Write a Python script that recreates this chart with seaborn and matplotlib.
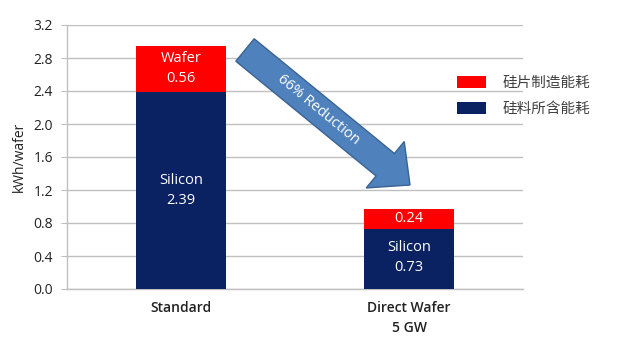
import matplotlib
matplotlib.use("Agg")
import matplotlib.pyplot as plt
import seaborn as sns
import pandas as pd
from matplotlib.patches import FancyArrow, Patch
from matplotlib.transforms import IdentityTransform

categories = ["Standard", "Direct Wafer\n5 GW"]
silicon = [2.39, 0.73]
wafer = [0.56, 0.24]
silicon_labels = ["Silicon\n2.39", "Silicon\n0.73"]
wafer_labels = ["Wafer\n0.56", "0.24"]
legend_labels = ["硅片制造能耗", "硅料所含能耗"]
yticks = [0.0, 0.4, 0.8, 1.2, 1.6, 2.0, 2.4, 2.8, 3.2]

RED = "#ff0000"
NAVY = "#0b2262"
GRID = "#c0c0c0"

sns.set_style("white")
plt.rcParams["font.family"] = ["Open Sans", "Noto Sans CJK SC", "DejaVu Sans"]

fig = plt.figure(figsize=(6.4, 3.49), dpi=100)
ax = fig.add_axes([67 / 640, 60 / 349, (523 - 67) / 640, (289 - 25) / 349])

df = pd.DataFrame({"cat": categories, "silicon": silicon,
                   "total": [s + w for s, w in zip(silicon, wafer)]})

sns.barplot(data=df, x="cat", y="total", color=RED, width=0.395,
            saturation=1, ax=ax, zorder=3)
sns.barplot(data=df, x="cat", y="silicon", color=NAVY, width=0.395,
            saturation=1, ax=ax, zorder=4)

for p in ax.patches:
    p.set_edgecolor("none")

# value labels inside the segments
for i, (s, w) in enumerate(zip(silicon, wafer)):
    ax.text(i, s / 2 if i == 0 else s / 2 + 0.02, silicon_labels[i], ha="center",
            va="center", color="white", fontsize=10.5, linespacing=1.45, zorder=5)
    ax.text(i, s + w / 2, wafer_labels[i], ha="center", va="center",
            color="white", fontsize=10.5, linespacing=1.45, zorder=5)

ax.set_xlim(-0.5, 1.5)
ax.set_ylim(0, 3.2)
ax.set_yticks(yticks)
ax.set_yticklabels([f"{t:.1f}" for t in yticks], fontsize=10, color="#222222")
ax.yaxis.grid(True, color=GRID, linewidth=1)
ax.set_axisbelow(True)
ax.set_xlabel("")
ax.set_ylabel("kWh/wafer", fontsize=10, labelpad=5, color="#222222")
ax.set_xticks([0, 1])
ax.set_xticklabels(categories, fontsize=10, fontweight="semibold",
                   linespacing=1.5, color="#222222")
ax.tick_params(axis="x", length=0, pad=9)
ax.set_xticks([-0.5, 0.5, 1.5], minor=True)
ax.tick_params(axis="x", which="minor", length=5, color=GRID, direction="out")
ax.tick_params(axis="y", length=4, color=GRID, direction="out", left=True, pad=6)

for side in ["top", "right"]:
    ax.spines[side].set_visible(False)
for side in ["left", "bottom"]:
    ax.spines[side].set_color(GRID)
    ax.spines[side].set_linewidth(1)

handles = [Patch(facecolor=RED, edgecolor="none"),
           Patch(facecolor=NAVY, edgecolor="none")]
leg = ax.legend(handles, legend_labels, loc="upper left",
                bbox_to_anchor=(0.843, 0.83), frameon=False,
                handlelength=2.0, handleheight=0.9, handletextpad=1.1,
                labelspacing=0.85, borderaxespad=0,
                prop={"family": ["Noto Sans CJK SC"], "size": 10.5})
for t in leg.get_texts():
    t.set_color("#404040")

# reduction arrow drawn in pixel space
H = 349
arrow = FancyArrow(245, H - 50, 165, -135, width=29, head_width=60,
                   head_length=32, length_includes_head=True,
                   facecolor="#4f81bd", edgecolor="#3a6393", linewidth=1,
                   transform=IdentityTransform(), zorder=6)
fig.add_artist(arrow)
fig.text(318 / 640, 1 - 110 / H, "66% Reduction", rotation=-39.5,
         rotation_mode="anchor", ha="center", va="center", color="white",
         fontsize=10.5, zorder=7)

fig.savefig("out.png", dpi=100)
